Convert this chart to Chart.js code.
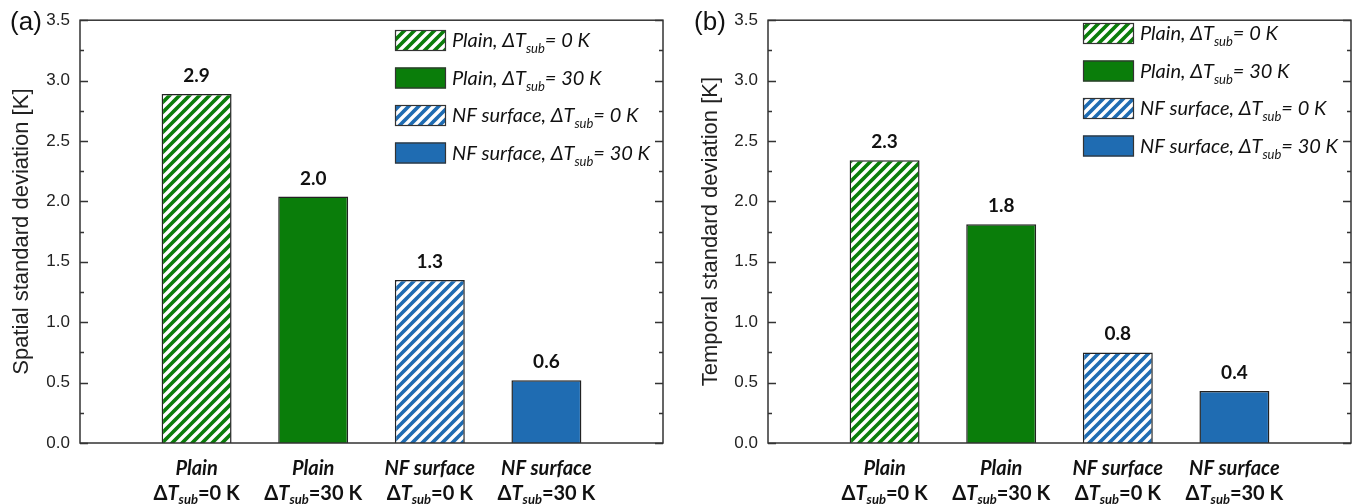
<!DOCTYPE html>
<html><head><meta charset="utf-8">
<script src="https://cdn.jsdelivr.net/npm/chart.js@4"></script>
<style>
html,body{margin:0;padding:0;background:#fff;}
#wrap{display:flex;width:1354px;height:504px;}
canvas{display:block;}
</style></head><body>
<div id="wrap"><canvas id="ca" width="677" height="504"></canvas><canvas id="cb" width="677" height="504"></canvas></div>
<script>
// ---- data ----
const categoryNames = ['Plain', 'Plain', 'NF surface', 'NF surface'];
const categorySubcooling = ['0', '30', '0', '30'];
const spatialValues = [2.89, 2.04, 1.35, 0.52];
const spatialLabels = ['2.9', '2.0', '1.3', '0.6'];
const temporalValues = [2.34, 1.81, 0.75, 0.43];
const temporalLabels = ['2.3', '1.8', '0.8', '0.4'];
const legendNames = ['Plain', 'Plain', 'NF surface', 'NF surface'];
const legendSubcooling = ['0', '30', '0', '30'];
const yMin = 0, yMax = 3.5, yMajorStep = 0.5, yMinorStep = 0.25;

// ---- styles ----
const GREEN = '#0a7d0a', BLUE = '#1f6cb2';
const baseColors = [GREEN, GREEN, BLUE, BLUE];
const hatched = [true, false, true, false];

function hatch(color) {
  const c = document.createElement('canvas');
  c.width = 10; c.height = 10;
  const g = c.getContext('2d');
  g.fillStyle = color; g.fillRect(0, 0, 10, 10);
  g.strokeStyle = '#fff'; g.lineWidth = 3.4;
  g.beginPath();
  g.moveTo(-5, 5); g.lineTo(5, -5);
  g.moveTo(0, 10); g.lineTo(10, 0);
  g.moveTo(5, 15); g.lineTo(15, 5);
  g.stroke();
  return g.createPattern(c, 'repeat');
}
const fills = baseColors.map((c, i) => hatched[i] ? hatch(c) : c);

function drawRich(ctx, segs, x, y, align) {
  let w = 0;
  segs.forEach(s => { ctx.font = s.font; s.w = ctx.measureText(s.t).width; w += s.w; });
  let cx = align === 'center' ? x - w / 2 : x;
  ctx.textAlign = 'left';
  ctx.textBaseline = 'alphabetic';
  segs.forEach(s => { ctx.font = s.font; ctx.fillText(s.t, cx, y + (s.dy || 0)); cx += s.w; });
}

const FONT_C = 'Lato, "Open Sans", sans-serif';
const FONT_A = '"Liberation Sans", Arial, sans-serif';

const decor = {
  id: 'decor',
  afterDraw(chart, args, o) {
    const ctx = chart.ctx;
    const a = chart.chartArea;
    const ys = chart.scales.y, xs = chart.scales.x;
    ctx.save();
    // frame
    ctx.strokeStyle = '#333'; ctx.lineWidth = 1.5;
    ctx.strokeRect(a.left, a.top, a.right - a.left, a.bottom - a.top);
    // inward ticks
    ctx.lineWidth = 1.3;
    for (let v = yMin; v <= yMax + 1e-9; v += yMinorStep) {
      const yp = Math.round(ys.getPixelForValue(v)) + 0.5;
      const major = Math.abs(v / yMajorStep - Math.round(v / yMajorStep)) < 1e-6;
      const len = major ? 8 : 4;
      ctx.beginPath();
      ctx.moveTo(a.left, yp); ctx.lineTo(a.left + len, yp);
      ctx.moveTo(a.right, yp); ctx.lineTo(a.right - len, yp);
      ctx.stroke();
    }
    // panel letter
    ctx.fillStyle = '#111';
    ctx.font = '26px ' + FONT_A;
    ctx.textAlign = 'center'; ctx.textBaseline = 'middle';
    ctx.fillText(o.letter, o.letterX, 23);
    // bar value labels
    const meta = chart.getDatasetMeta(0);
    ctx.fillStyle = '#111';
    ctx.font = 'bold 19px ' + FONT_C;
    ctx.textAlign = 'center'; ctx.textBaseline = 'alphabetic';
    o.valueLabels.forEach((t, i) => {
      const el = meta.data[i + 1];
      ctx.fillText(t, el.x, el.y - 12);
    });
    // x category labels
    ctx.fillStyle = '#111';
    categoryNames.forEach((n, i) => {
      const x = xs.getPixelForValue(i + 1);
      drawRich(ctx, [{t: n, font: 'italic bold 20px ' + FONT_C}], x, 475, 'center');
      drawRich(ctx, [
        {t: 'Δ', font: 'bold 20px ' + FONT_C},
        {t: 'T', font: 'italic bold 20px ' + FONT_C},
        {t: 'sub', font: 'italic bold 13px ' + FONT_C, dy: 4},
        {t: '=' + categorySubcooling[i] + ' K', font: 'bold 20px ' + FONT_C}
      ], x, 500, 'center');
    });
    // legend
    legendNames.forEach((n, i) => {
      const cy = o.legendY + i * 37.5;
      ctx.fillStyle = fills[i];
      ctx.fillRect(o.legendX, cy - 10, 51, 21);
      ctx.strokeStyle = '#333'; ctx.lineWidth = 1.2;
      ctx.strokeRect(o.legendX + 0.5, cy - 10 + 0.5, 50, 20);
      ctx.fillStyle = '#111';
      drawRich(ctx, [
        {t: n + ', ΔT', font: 'italic 20px ' + FONT_C},
        {t: 'sub', font: 'italic 13px ' + FONT_C, dy: 6},
        {t: '= ' + legendSubcooling[i] + ' K', font: 'italic 20px ' + FONT_C}
      ], o.legendX + 57, cy + 7, 'left');
    });
    ctx.restore();
  }
};

function makeChart(id, values, valueLabels, yTitle, p) {
  return new Chart(document.getElementById(id), {
    type: 'bar',
    data: {
      labels: ['', ...categoryNames, ''],
      datasets: [{
        data: [null, ...values, null],
        backgroundColor: [null, ...fills, null],
        borderColor: '#222',
        borderWidth: 1.5,
        categoryPercentage: 1,
        barPercentage: 0.6
      }]
    },
    options: {
      responsive: false,
      animation: false,
      devicePixelRatio: 1,
      layout: {padding: {top: 16, right: p.padRight, left: 0, bottom: 0}},
      plugins: {legend: {display: false}, tooltip: {enabled: false}, decor: p},
      scales: {
        x: {
          offset: false,
          grid: {display: false, drawTicks: false}, border: {display: false},
          ticks: {display: false},
          afterFit(s) { s.height = 61; }
        },
        y: {
          min: yMin, max: yMax,
          grid: {display: false, drawTicks: false}, border: {display: false},
          ticks: {stepSize: yMajorStep, padding: 10, color: '#222',
            font: {size: 17, family: FONT_A},
            callback: v => Number(v).toFixed(1)},
          title: {display: true, text: yTitle, color: '#222',
            font: {size: 22, family: FONT_A}, padding: {top: p.titlePad, bottom: 0}},
          afterFit(s) { s.width = p.yWidth; }
        }
      }
    },
    plugins: [decor]
  });
}

makeChart('ca', spatialValues, spatialLabels, 'Spatial standard deviation [K]',
  {letter: '(a)', letterX: 26, legendX: 395, legendY: 40, yWidth: 80, padRight: 14, titlePad: 9, valueLabels: spatialLabels});
makeChart('cb', temporalValues, temporalLabels, 'Temporal standard deviation [K]',
  {letter: '(b)', letterX: 33, legendX: 406, legendY: 33, yWidth: 91, padRight: 3, titlePad: 21, valueLabels: temporalLabels});
</script>
</body></html>
